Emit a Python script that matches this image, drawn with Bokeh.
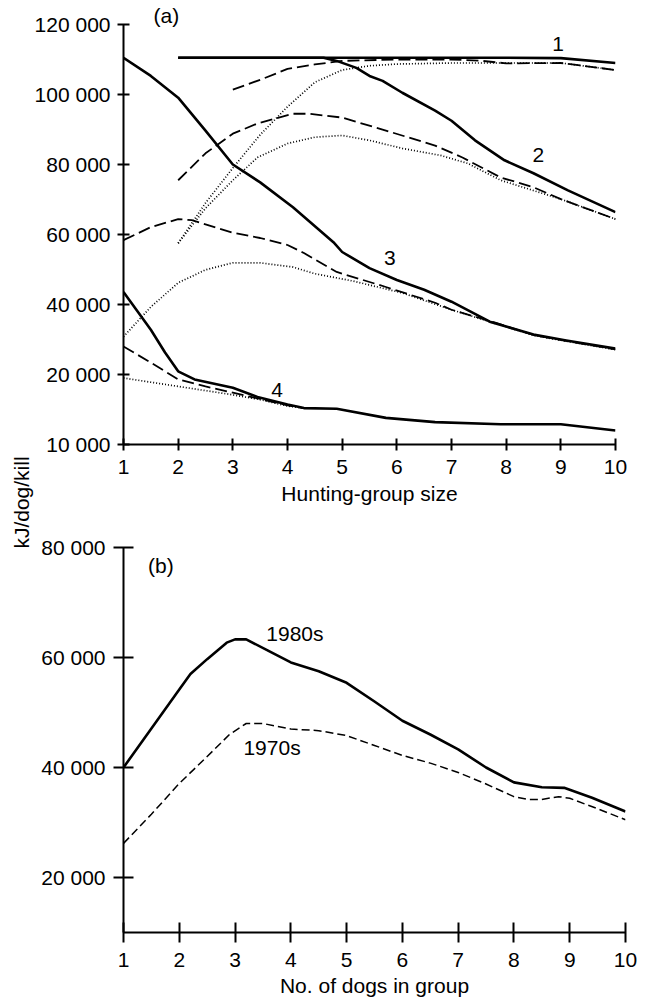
from bokeh.plotting import figure
from bokeh.models import FixedTicker, Label, Range1d, Title
from bokeh.layouts import column
from bokeh.embed import file_html
from bokeh.resources import INLINE

FONT = "Liberation Sans"
FS = "21px"

# ---------------- data: panel (a) ----------------
g1_solid_x = [2, 3, 4, 5, 6, 7, 8, 9, 10]
g1_solid_y = [110500, 110500, 110500, 110500, 110500, 110500, 110500, 110400, 109000]
g1_dash_x = [3, 3.5, 4, 4.5, 5, 6, 7, 7.5, 8, 9, 10]
g1_dash_y = [101400, 104200, 107300, 108600, 109600, 110000, 110000, 109700, 108900, 109000, 107000]
g1_dot_x = [2, 2.5, 3, 3.5, 4, 4.5, 5, 5.5, 6, 7, 8, 9, 10]
g1_dot_y = [57500, 69000, 79000, 88500, 96500, 103500, 107000, 108200, 108700, 109000, 109000, 109000, 107000]

g2_solid_x = [2, 3, 4, 4.66, 4.9, 5.26, 5.5, 5.74, 6.1, 6.7, 7, 7.43, 7.97, 8.5, 9.13, 10]
g2_solid_y = [110500, 110500, 110500, 110500, 109600, 107600, 105300, 103900, 100500, 95400, 92500,
              86900, 81200, 77500, 72600, 66400]
g2_dash_x = [2, 2.5, 3, 3.45, 4.1, 4.4, 5, 5.8, 6.7, 7.2, 7.9, 8.5, 9, 10]
g2_dash_y = [75500, 83200, 88800, 91700, 94500, 94500, 93400, 89700, 85400, 82000, 76300, 73500, 70100, 64400]
g2_dot_x = [2, 2.5, 3, 3.45, 4, 4.5, 5, 5.5, 6.1, 6.8, 7.3, 7.9, 9, 10]
g2_dot_y = [57500, 67500, 75500, 82000, 86000, 87800, 88300, 86900, 84600, 82600, 80300, 75500, 70100, 64400]

g3_solid_x = [1, 1.5, 2, 2.5, 3, 3.5, 4.1, 4.84, 5, 5.5, 6, 6.5, 7, 7.7, 8.5, 9.1, 10]
g3_solid_y = [110500, 105300, 99100, 89700, 80000, 74900, 67800, 57800, 55000, 50400, 47000, 44200,
              40800, 35100, 31400, 29700, 27400]
g3_dash_x = [1, 1.5, 2, 2.25, 3, 3.5, 4, 4.3, 4.9, 5.8, 6.7, 7, 7.8, 8.5, 9.1, 10]
g3_dash_y = [58400, 62100, 64400, 64100, 60500, 59000, 57000, 54700, 49300, 45000, 40500, 38500,
             34800, 31300, 29600, 27200]
g3_dot_x = [1, 1.5, 2, 2.5, 3, 3.5, 4.1, 4.5, 5.2, 6.1, 7, 7.8, 8.5, 9.1, 10]
g3_dot_y = [30800, 39300, 46200, 49900, 51900, 51900, 50700, 48800, 46700, 43300, 38500, 34600,
            31200, 29500, 27100]

g4_solid_x = [1, 1.5, 1.76, 2, 2.3, 3, 3.45, 4, 4.3, 4.9, 5.8, 6.7, 7.9, 9, 10]
g4_solid_y = [43600, 32800, 26300, 20900, 19300, 18100, 16800, 15700, 15200, 15100, 13800, 13200,
              12900, 12900, 12000]
g4_dash_x = [1, 1.5, 2, 2.5, 3, 3.5, 4, 4.3]
g4_dash_y = [28000, 23400, 19300, 18300, 17400, 16500, 15600, 15200]
g4_dot_x = [1, 2, 3, 3.5, 4, 4.3]
g4_dot_y = [19500, 18300, 17100, 16400, 15500, 15200]

a_ticks = [10000, 20000, 40000, 60000, 80000, 100000, 120000]
a_tick_labels = ["10 000", "20 000", "40 000", "60 000", "80 000", "100 000", "120 000"]
x_ticks = [1, 2, 3, 4, 5, 6, 7, 8, 9, 10]

# ---------------- data: panel (b) ----------------
x1980 = [1, 1.5, 2, 2.2, 2.5, 2.85, 3.0, 3.2, 3.6, 4, 4.5, 5, 5.5, 6, 6.5, 7, 7.5, 8, 8.5, 8.9, 9.4, 10]
v1980 = [40000, 47100, 54200, 57000, 59700, 62700, 63300, 63300, 61200, 59100, 57500, 55400, 52000,
         48500, 46000, 43300, 40000, 37300, 36400, 36300, 34500, 32000]
x1970 = [1, 1.5, 2, 2.5, 2.9, 3.2, 3.5, 4, 4.5, 5, 5.5, 6, 6.5, 7, 7.5, 8, 8.25, 8.5, 8.8, 9, 9.5, 10]
v1970 = [26200, 31500, 37100, 42000, 46000, 48000, 48000, 47000, 46700, 45800, 44000, 42200, 40800,
         39100, 37000, 34700, 34200, 34200, 34700, 34400, 32500, 30500]
b_ticks = [20000, 40000, 60000, 80000]
b_tick_labels = ["20 000", "40 000", "60 000", "80 000"]


def brk(vals):
    """Panel (a) y axis is broken: the 10 000-20 000 band is drawn at twice the scale."""
    return [v if v >= 20000 else 20000 - 2 * (20000 - v) for v in vals]


def style_axes(p, tick_len, x_standoff, y_standoff, title_standoff):
    for ax in (p.xaxis[0], p.yaxis[0]):
        ax.axis_line_width = 2
        ax.axis_line_color = "black"
        ax.major_tick_line_width = 2
        ax.major_tick_line_color = "black"
        ax.major_tick_in = tick_len
        ax.major_tick_out = tick_len
        ax.minor_tick_line_color = None
        ax.major_label_text_font = FONT
        ax.major_label_text_font_size = FS
        ax.major_label_text_color = "black"
        ax.axis_label_text_font = FONT
        ax.axis_label_text_font_size = FS
        ax.axis_label_text_font_style = "normal"
        ax.axis_label_text_color = "black"
    p.xaxis[0].major_label_standoff = x_standoff
    p.yaxis[0].major_label_standoff = y_standoff
    p.xaxis[0].axis_label_standoff = title_standoff
    p.xgrid.grid_line_color = None
    p.ygrid.grid_line_color = None
    p.outline_line_color = None


def add_label(p, x, y, text, align="center"):
    p.add_layout(Label(x=x, y=y, text=text, text_font=FONT, text_font_size=FS,
                       text_color="black", text_align=align, text_baseline="middle"))


# ---------------- panel (a) ----------------
top = figure(width=640, height=512, output_backend="svg", toolbar_location=None,
             x_range=Range1d(1, 10), y_range=Range1d(brk([10000])[0], 120000),
             min_border_left=118, min_border_right=25, min_border_top=24, min_border_bottom=68)
top.title = Title(text="(a)", align="left", offset=30, standoff=-4, text_font=FONT,
                  text_font_size=FS, text_font_style="normal", text_color="black", text_line_height=1.0)
style_axes(top, 6, 9, 7, 5)
top.xaxis[0].ticker = FixedTicker(ticks=x_ticks)
ya = brk(a_ticks)
top.yaxis[0].ticker = FixedTicker(ticks=ya)
top.yaxis[0].major_label_overrides = {t: s for t, s in zip(ya, a_tick_labels)}
top.xaxis[0].axis_label = "Hunting-group size"

SOLID = dict(line_width=2.6, color="black", line_join="round")
DASH = dict(line_width=1.8, color="black", line_dash="12 5", line_join="round")
DOT = dict(line_width=1.7, color="black", line_dash="1 2", line_join="round")

for xs, ys, sty in [
    (g1_dot_x, g1_dot_y, DOT), (g2_dot_x, g2_dot_y, DOT), (g3_dot_x, g3_dot_y, DOT), (g4_dot_x, g4_dot_y, DOT),
    (g1_dash_x, g1_dash_y, DASH), (g2_dash_x, g2_dash_y, DASH), (g3_dash_x, g3_dash_y, DASH),
    (g4_dash_x, g4_dash_y, DASH),
    (g1_solid_x, g1_solid_y, SOLID), (g2_solid_x, g2_solid_y, SOLID), (g3_solid_x, g3_solid_y, SOLID),
    (g4_solid_x, g4_solid_y, SOLID),
]:
    top.line(xs, brk(ys), **sty)

add_label(top, 8.95, 114400, "1")
add_label(top, 8.59, 82600, "2")
add_label(top, 5.87, 53300, "3")
add_label(top, 3.81, brk([17800])[0], "4")

# ---------------- shared y-axis title: a transparent strip whose y axis carries the title ----------------
lab = figure(width=57, height=100, output_backend="svg", toolbar_location=None,
             x_range=Range1d(0, 1), y_range=Range1d(0, 1),
             min_border_left=35, min_border_right=0, min_border_top=4, min_border_bottom=0,
             margin=(-62, 0, 0, 0))
lab.xaxis.visible = False
lab.xgrid.grid_line_color = None
lab.ygrid.grid_line_color = None
lab.outline_line_color = None
lab.background_fill_alpha = 0
lab.border_fill_alpha = 0
lab.yaxis[0].ticker = FixedTicker(ticks=[])
lab.yaxis[0].axis_line_color = None
lab.yaxis[0].major_tick_line_color = None
lab.yaxis[0].minor_tick_line_color = None
lab.yaxis[0].major_tick_out = 0
lab.yaxis[0].major_tick_in = 0
lab.yaxis[0].major_label_standoff = 0
lab.yaxis[0].axis_label = "kJ/dog/kill"
lab.yaxis[0].axis_label_standoff = 0
lab.yaxis[0].axis_label_text_font = FONT
lab.yaxis[0].axis_label_text_font_size = FS
lab.yaxis[0].axis_label_text_font_style = "normal"
lab.yaxis[0].axis_label_text_color = "black"

# ---------------- panel (b) ----------------
bot = figure(width=650, height=466, output_backend="svg", toolbar_location=None,
             x_range=Range1d(1, 10), y_range=Range1d(10000, 80000),
             min_border_left=123, min_border_right=17, min_border_top=12, min_border_bottom=69,
             margin=(-15, 0, 0, 0))
bot.background_fill_alpha = 0
bot.border_fill_alpha = 0
style_axes(bot, 10, 10, 8, 4)
bot.xaxis[0].ticker = FixedTicker(ticks=x_ticks)
bot.yaxis[0].ticker = FixedTicker(ticks=b_ticks)
bot.yaxis[0].major_label_overrides = {t: s for t, s in zip(b_ticks, b_tick_labels)}
bot.xaxis[0].axis_label = "No. of dogs in group"
bot.line(x1970, v1970, line_width=1.5, color="black", line_dash="8 4", line_join="round")
bot.line(x1980, v1980, line_width=2.6, color="black", line_join="round")
add_label(bot, 1.67, 76700, "(b)")
add_label(bot, 3.56, 64400, "1980s", align="left")
add_label(bot, 3.15, 43600, "1970s", align="left")

layout = column(top, lab, bot)
open("out.html", "w").write(file_html(layout, INLINE))
